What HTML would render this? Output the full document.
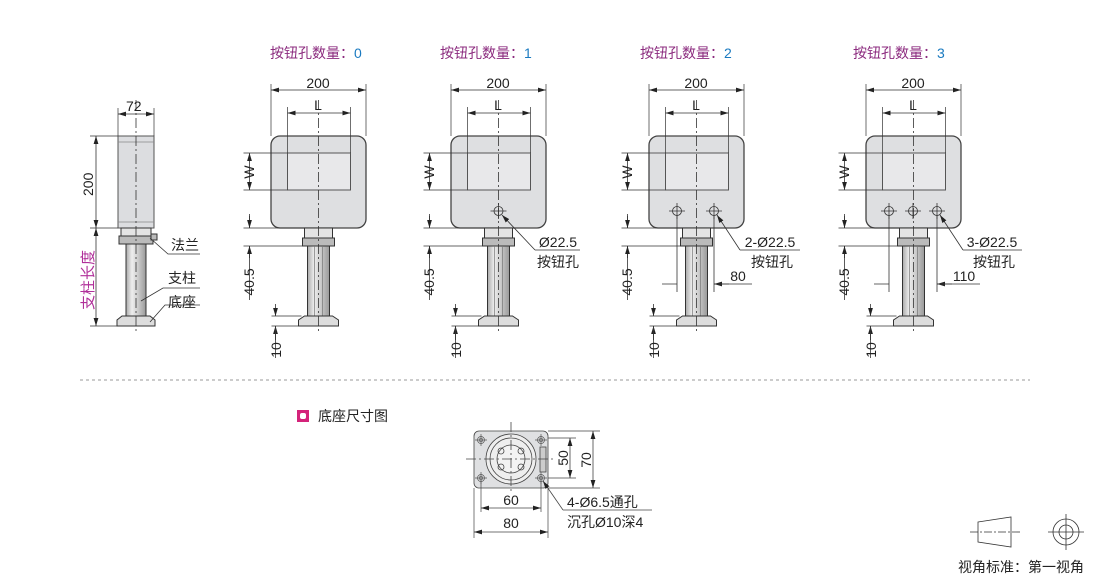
<!DOCTYPE html>
<html><head><meta charset="utf-8"><style>
html,body{margin:0;padding:0;background:#fff;width:1110px;height:576px;overflow:hidden}
svg{display:block;font-family:"Liberation Sans","Noto Sans CJK SC",sans-serif}
</style></head><body>
<svg width="1110" height="576" viewBox="0 0 1110 576" xmlns="http://www.w3.org/2000/svg">
<defs>
<marker id="a" viewBox="0 0 10 6" refX="10" refY="3" markerWidth="8" markerHeight="5" orient="auto-start-reverse" markerUnits="userSpaceOnUse"><path d="M0,0L10,3L0,6z" fill="#222"/></marker>
<linearGradient id="col" x1="0" x2="1"><stop offset="0" stop-color="#aaa"/><stop offset=".3" stop-color="#eee"/><stop offset=".6" stop-color="#ccc"/><stop offset="1" stop-color="#999"/></linearGradient>
<g id="fv" stroke="#333" stroke-width="1" fill="none">
 <rect x="-47.5" y="136" width="95" height="92" rx="9" fill="#dedfe1" stroke="#444" stroke-width="1.3"/>
 <rect x="-31" y="153" width="63" height="37" fill="#e8e8ea" stroke="#555"/>
 <path d="M-14,228h28v10q-14,4 -28,0z" fill="#e4e4e4"/>
 <rect x="-16" y="238" width="32" height="8" fill="#bbb"/>
 <rect x="-11" y="246" width="22" height="70" fill="url(#col)"/>
 <path d="M-4,246v70M4,246v70" stroke="#777" stroke-width=".7"/>
 <path d="M-14,316h28l6,4v6h-40v-6z" fill="#ddd"/>
 <path d="M0,100V333" stroke="#333" stroke-width=".8" stroke-dasharray="10,3,2,3"/>
 <path d="M-47.5,84V136M47.5,84V136M-31,107V153M32,107V153" stroke-width=".7"/>
 <path d="M-47.5,90H47.5" marker-start="url(#a)" marker-end="url(#a)" stroke-width=".8"/>
 <path d="M-31,113H32" marker-start="url(#a)" marker-end="url(#a)" stroke-width=".8"/>
 <path d="M-75,153H-31M-75,190H-31" stroke-width=".7"/>
 <path d="M-69,153V190" marker-start="url(#a)" marker-end="url(#a)" stroke-width=".8"/>
 <path d="M-75,228H-14M-75,246H-11" stroke-width=".7"/>
 <path d="M-69,214V228M-69,246V300" stroke-width=".8"/>
 <path d="M-69,216V228" marker-end="url(#a)" stroke-width=".8"/>
 <path d="M-69,258V246" marker-end="url(#a)" stroke-width=".8"/>
 <path d="M-47,316H-17M-47,326H-20" stroke-width=".7"/>
 <path d="M-43,304V316" marker-end="url(#a)" stroke-width=".8"/>
 <path d="M-43,340V326" marker-end="url(#a)" stroke-width=".8"/>
 <path d="M-43,326V358" stroke-width=".8"/>
</g>
<g id="btn" stroke="#333" stroke-width=".8" fill="none"><circle r="4.5"/><path d="M-8,0H8M0,-8V8"/></g>
<g id="hole" stroke="#555" stroke-width=".7" fill="none"><circle r="3.5"/><circle r="1.8"/><path d="M-6,0H6M0,-6V6"/></g>
</defs>

<g font-size="14" fill="#8b2a7e">
<text x="270" y="58">按钮孔数量：<tspan fill="#1a7ac0">0</tspan></text>
<text x="440" y="58">按钮孔数量：<tspan fill="#1a7ac0">1</tspan></text>
<text x="640" y="58">按钮孔数量：<tspan fill="#1a7ac0">2</tspan></text>
<text x="853" y="58">按钮孔数量：<tspan fill="#1a7ac0">3</tspan></text>
</g>

<g stroke="#333" fill="none">
 <rect x="118" y="136" width="36" height="92" fill="#dcdde0" stroke="#555"/>
 <path d="M118,142H154M118,222H154" stroke="#888" stroke-width=".7"/>
 <path d="M121,228h30v8q-15,5 -30,0z" fill="#e4e4e4"/>
 <rect x="119" y="236" width="34" height="8" fill="#bbb"/>
 <rect x="151" y="234" width="6" height="6" fill="#bbb"/>
 <rect x="126" y="244" width="20" height="72" fill="url(#col)"/>
 <path d="M122,316h28l5,4v6h-38v-6z" fill="#ddd"/>
 <path d="M136,100V333" stroke-width=".8" stroke-dasharray="10,3,2,3"/>
 <path d="M118,108V136M154,108V136" stroke-width=".7"/>
 <path d="M118,114H154" marker-start="url(#a)" marker-end="url(#a)" stroke-width=".8"/>
 <path d="M90,136H118M90,228H118M90,326H118" stroke-width=".7"/>
 <path d="M96,136V228" marker-start="url(#a)" marker-end="url(#a)" stroke-width=".8"/>
 <path d="M96,228V326" marker-start="url(#a)" marker-end="url(#a)" stroke-width=".8"/>
 <path d="M150,238L168,254H200M141,301L163,288H200M150,322L165,305H200" stroke-width=".8"/>
</g>
<g font-size="14" fill="#222">
<text x="126" y="111">72</text>
<text x="171" y="250">法兰</text>
<text x="168" y="283">支柱</text>
<text x="168" y="307">底座</text>
<text transform="translate(93,196) rotate(-90)" font-size="14">200</text>
<text transform="translate(93,310) rotate(-90)" font-size="15" fill="#b0309a">支柱长度</text>
</g>

<use href="#fv" transform="translate(318.5,0)"/>
<use href="#fv" transform="translate(498.5,0)"/>
<use href="#fv" transform="translate(696.5,0)"/>
<use href="#fv" transform="translate(913.5,0)"/>
<use href="#btn" x="498.5" y="211"/>
<use href="#btn" x="677" y="211"/><use href="#btn" x="714" y="211"/>
<use href="#btn" x="889" y="211"/><use href="#btn" x="913" y="211"/><use href="#btn" x="937" y="211"/>
<g stroke="#333" fill="none" stroke-width=".8">
 <path d="M535,250L502,215" marker-end="url(#a)"/><path d="M535,250H580"/>
 <path d="M740,250L717,215" marker-end="url(#a)"/><path d="M740,250H800"/>
 <path d="M963,250L940,215" marker-end="url(#a)"/><path d="M963,250H1022"/>
 <path d="M677,215V292M714,215V292"/>
 <path d="M662,284H677M729,284H714" marker-end="url(#a)"/><path d="M714,284H752"/>
 <path d="M889,215V292M937,215V292"/>
 <path d="M874,284H889M952,284H937" marker-end="url(#a)"/><path d="M937,284H980"/>
</g>
<g font-size="14" fill="#222" text-anchor="middle">
<text x="318" y="88">200</text><text x="318" y="110">L</text>
<text x="498" y="88">200</text><text x="498" y="110">L</text>
<text x="696" y="88">200</text><text x="696" y="110">L</text>
<text x="913" y="88">200</text><text x="913" y="110">L</text>
<text x="558" y="247">Ø22.5</text><text x="558" y="267">按钮孔</text>
<text x="770" y="247">2-Ø22.5</text><text x="772" y="267">按钮孔</text>
<text x="992" y="247">3-Ø22.5</text><text x="994" y="267">按钮孔</text>
<text x="738" y="281">80</text><text x="964" y="281">110</text>
</g>
<g font-size="14" fill="#222" text-anchor="middle">
<text transform="translate(254,172) rotate(-90)">W</text>
<text transform="translate(434,172) rotate(-90)">W</text>
<text transform="translate(632,172) rotate(-90)">W</text>
<text transform="translate(849,172) rotate(-90)">W</text>
<text transform="translate(254,282) rotate(-90)">40.5</text>
<text transform="translate(434,282) rotate(-90)">40.5</text>
<text transform="translate(632,282) rotate(-90)">40.5</text>
<text transform="translate(849,282) rotate(-90)">40.5</text>
<text transform="translate(281,350) rotate(-90)">10</text>
<text transform="translate(461,350) rotate(-90)">10</text>
<text transform="translate(659,350) rotate(-90)">10</text>
<text transform="translate(876,350) rotate(-90)">10</text>
</g>

<path d="M80,380H1030" stroke="#999" stroke-width="1" stroke-dasharray="3,3"/>

<rect x="297" y="410" width="12" height="12" fill="#d4237a"/>
<rect x="300" y="413" width="6" height="6" rx="2" fill="#fff"/>
<text x="318" y="421" font-size="14" fill="#222">底座尺寸图</text>

<g stroke="#444" fill="none" stroke-width=".8">
 <rect x="474" y="431" width="74" height="57" rx="5" fill="#dfe0e2"/>
 <circle cx="511" cy="459" r="25" fill="#eee"/>
 <circle cx="511" cy="459" r="21"/>
 <circle cx="511" cy="459" r="14" fill="#f3f3f3"/>
 <circle cx="501" cy="451" r="3"/><circle cx="521" cy="451" r="3"/><circle cx="501" cy="467" r="3"/><circle cx="521" cy="467" r="3"/>
 <rect x="540" y="447" width="6" height="25" fill="#ccc"/>
 <path d="M466,459H556M511,422V492" stroke-dasharray="10,3,2,3"/>
 <path d="M481,480V512M541,480V512M474,488V538M548,488V538" stroke-width=".7"/>
 <path d="M481,508H541" marker-start="url(#a)" marker-end="url(#a)"/>
 <path d="M474,532H548" marker-start="url(#a)" marker-end="url(#a)"/>
 <path d="M548,438H576M548,478H576M548,431H600M548,488H600" stroke-width=".7"/>
 <path d="M570,438V478" marker-start="url(#a)" marker-end="url(#a)"/>
 <path d="M593,431V488" marker-start="url(#a)" marker-end="url(#a)"/>
 <path d="M563,510L543,481" marker-end="url(#a)"/><path d="M563,510H652"/>
</g>
<use href="#hole" x="481" y="440"/><use href="#hole" x="541" y="440"/><use href="#hole" x="481" y="478"/><use href="#hole" x="541" y="478"/>
<g font-size="14" fill="#222">
<text x="511" y="505" text-anchor="middle">60</text>
<text x="511" y="528" text-anchor="middle">80</text>
<text transform="translate(568,458) rotate(-90)" text-anchor="middle">50</text>
<text transform="translate(591,460) rotate(-90)" text-anchor="middle">70</text>
<text x="567" y="507">4-Ø6.5通孔</text>
<text x="567" y="527">沉孔Ø10深4</text>
</g>

<g stroke="#333" fill="none" stroke-width=".8">
 <path d="M978,522L1011,517V547L978,542z"/>
 <path d="M970,532H1020" stroke-dasharray="8,2,2,2"/>
 <circle cx="1066" cy="532" r="13"/><circle cx="1066" cy="532" r="7"/>
 <path d="M1048,532H1084M1066,514V550"/>
</g>
<text x="958" y="572" font-size="14" fill="#222">视角标准：第一视角</text>
</svg>
</body></html>
